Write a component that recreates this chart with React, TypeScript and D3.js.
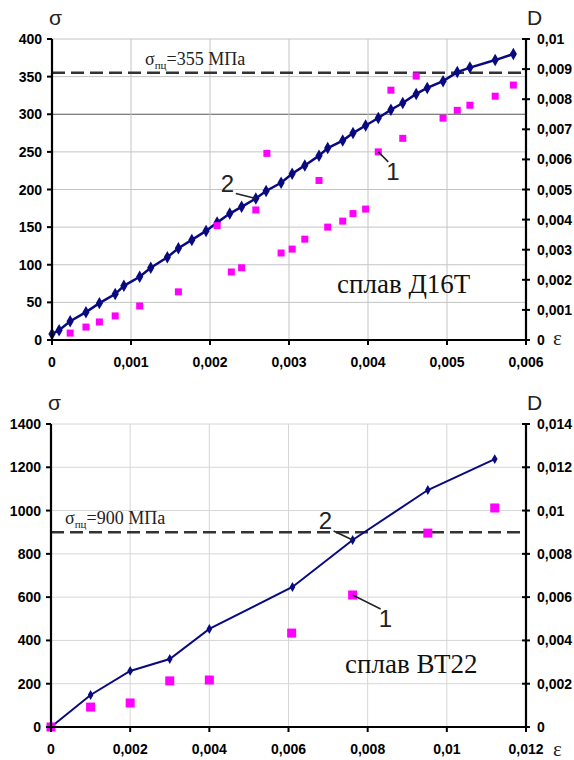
import React from "react";
import * as d3 from "d3";

// alloy D16T: loading curve (2) and damage points (1)
const topLineEps = [0, 0.00009, 0.00023, 0.00043, 0.0006, 0.0008, 0.00091, 0.00111, 0.00125, 0.00146, 0.0016, 0.00177, 0.00195, 0.00209, 0.00225, 0.0024, 0.00258, 0.00271, 0.0029, 0.00304, 0.0032, 0.00338, 0.00349, 0.00368, 0.00381, 0.00397, 0.00413, 0.00429, 0.00444, 0.00461, 0.00475, 0.00495, 0.00513, 0.00529, 0.00561, 0.00584];
const topLineSigma = [8, 13, 25, 37, 49, 61, 72, 84, 96, 110, 122, 133, 145, 156, 168, 177, 188, 198, 209, 221, 232, 245, 255, 265, 275, 285, 295, 306, 315, 327, 335, 344, 356, 362, 372, 380];
const topDotsEps = [0.00023, 0.00043, 0.0006, 0.0008, 0.00111, 0.0016, 0.00209, 0.00227, 0.0024, 0.00258, 0.00272, 0.0029, 0.00304, 0.0032, 0.00338, 0.00349, 0.00368, 0.00381, 0.00397, 0.00413, 0.00429, 0.00444, 0.00461, 0.00495, 0.00513, 0.00529, 0.00561, 0.00584];
const topDotsD = [0.00023, 0.00043, 0.0006, 0.0008, 0.00113, 0.0016, 0.0038, 0.00226, 0.0024, 0.00432, 0.0062, 0.00289, 0.00302, 0.00335, 0.0053, 0.00375, 0.00395, 0.0042, 0.00435, 0.00625, 0.0083, 0.0067, 0.00877, 0.00737, 0.00763, 0.0078, 0.0081, 0.00847];
const topXTicks = ["0", "0,001", "0,002", "0,003", "0,004", "0,005", "0,006"];
const topYTicks = ["0", "50", "100", "150", "200", "250", "300", "350", "400"];
const topDTicks = ["0", "0,001", "0,002", "0,003", "0,004", "0,005", "0,006", "0,007", "0,008", "0,009", "0,01"];

// alloy VT22
const botLineEps = [0, 0.001, 0.002, 0.003, 0.004, 0.0061, 0.00762, 0.00952, 0.01121];
const botLineSigma = [0, 148, 259, 314, 453, 647, 864, 1095, 1238];
const botDotsEps = [0, 0.001, 0.002, 0.003, 0.004, 0.00608, 0.00762, 0.00952, 0.01121];
const botDotsD = [0, 0.00092, 0.00111, 0.00213, 0.00217, 0.00434, 0.0061, 0.00896, 0.01012];
const botXTicks = ["0", "0,002", "0,004", "0,006", "0,008", "0,01", "0,012"];
const botYTicks = ["0", "200", "400", "600", "800", "1000", "1200", "1400"];
const botDTicks = ["0", "0,002", "0,004", "0,006", "0,008", "0,01", "0,012", "0,014"];

const NAVY = "#0a0a80";
const PINK = "#ff00ff";
const SERIF = "Times New Roman, Liberation Serif, serif";
const SANS = "Arial, Liberation Sans, sans-serif";
const BOLD = { fontFamily: SANS, fontWeight: 700, fontSize: 14 } as const;

type PanelProps = {
  left: number; right: number; top: number; bottom: number;
  xMax: number; yMax: number; dMax: number;
  xTicks: string[]; yTicks: string[]; dTicks: string[];
  lineEps: number[]; lineSigma: number[]; dotsEps: number[]; dotsD: number[];
  limit: number; limitText: string; limitX: number;
  title: string; titleX: number; titleY: number;
  label2: number; label1: number; off2: [number, number]; off1: [number, number];
  dot: number; diamond: number; lineW: number; darkGrid?: number; gridColor: string;
};

function Panel(p: PanelProps) {
  const x = d3.scaleLinear().domain([0, p.xMax]).range([p.left, p.right]);
  const y = d3.scaleLinear().domain([0, p.yMax]).range([p.bottom, p.top]);
  const yd = d3.scaleLinear().domain([0, p.dMax]).range([p.bottom, p.top]);
  const xs = d3.range(p.xTicks.length).map(i => (p.xMax * i) / (p.xTicks.length - 1));
  const ys = d3.range(p.yTicks.length).map(i => (p.yMax * i) / (p.yTicks.length - 1));
  const ds = d3.range(p.dTicks.length).map(i => (p.dMax * i) / (p.dTicks.length - 1));
  const line = d3.line<number>().x((_, i) => x(p.lineEps[i])).y(v => y(v));
  const diamond = d3.symbol().type(d3.symbolDiamond).size(p.diamond)();

  const px2 = x(p.lineEps[p.label2]);
  const py2 = y(p.lineSigma[p.label2]);
  const px1 = x(p.dotsEps[p.label1]);
  const py1 = yd(p.dotsD[p.label1]);

  return (
    <g>
      {ys.map((v, i) => (
        <line key={"gy" + i} x1={p.left} x2={p.right} y1={y(v)} y2={y(v)}
          stroke={v === p.darkGrid ? "#555" : p.gridColor} strokeWidth={1} />
      ))}
      {xs.slice(1).map((v, i) => (
        <line key={"gx" + i} x1={x(v)} x2={x(v)} y1={p.top} y2={p.bottom} stroke={p.gridColor} strokeWidth={1} />
      ))}
      <line x1={p.left} x2={p.right} y1={y(p.limit)} y2={y(p.limit)} stroke="#333" strokeWidth={2.5} strokeDasharray="13,6" />
      <text x={p.limitX} y={y(p.limit) - 8} fontFamily={SERIF} fontSize={18} fill="#222">
        σ<tspan fontSize={11} dy={4}>пц</tspan><tspan dy={-4}>={p.limitText}</tspan>
      </text>

      <path d={line(p.lineSigma) || ""} fill="none" stroke={NAVY} strokeWidth={p.lineW} />
      {p.lineEps.map((e, i) => (
        <path key={"m" + i} d={diamond || ""} transform={`translate(${x(e)},${y(p.lineSigma[i])})`} fill={NAVY} />
      ))}
      {p.dotsEps.map((e, i) => (
        <rect key={"s" + i} x={x(e) - p.dot / 2} y={yd(p.dotsD[i]) - p.dot / 2} width={p.dot} height={p.dot} fill={PINK} />
      ))}

      <line x1={p.left} x2={p.left} y1={p.top} y2={p.bottom} stroke="#000" strokeWidth={2.2} />
      <line x1={p.right} x2={p.right} y1={p.top} y2={p.bottom} stroke="#000" strokeWidth={2.2} />
      <line x1={p.left} x2={p.right} y1={p.bottom} y2={p.bottom} stroke="#000" strokeWidth={2.2} />
      {ys.map((v, i) => (
        <g key={"ty" + i}>
          <line x1={p.left - 5} x2={p.left} y1={y(v)} y2={y(v)} stroke="#000" strokeWidth={2} />
          <text x={p.left - 10} y={y(v) + 5} textAnchor="end" {...BOLD}>{p.yTicks[i]}</text>
        </g>
      ))}
      {ds.map((v, i) => (
        <g key={"td" + i}>
          <line x1={p.right - 4} x2={p.right + 4} y1={yd(v)} y2={yd(v)} stroke="#000" strokeWidth={2} />
          <text x={p.right + 11} y={yd(v) + 5} {...BOLD}>{p.dTicks[i]}</text>
        </g>
      ))}
      {xs.map((v, i) => (
        <g key={"tx" + i}>
          <line x1={x(v)} x2={x(v)} y1={p.bottom} y2={p.bottom + 5} stroke="#000" strokeWidth={2} />
          <text x={x(v)} y={p.bottom + 27} textAnchor="middle" {...BOLD}>{p.xTicks[i]}</text>
        </g>
      ))}

      <text x={p.left - 3} y={p.top - 14} fontFamily={SANS} fontSize={21} fill="#222">σ</text>
      <text x={p.right + 1} y={p.top - 14} fontFamily={SANS} fontSize={21} fill="#222">D</text>

      <line x1={px2 + p.off2[0] + 6} y1={py2 + p.off2[1] + 2} x2={px2} y2={py2} stroke="#222" strokeWidth={1.5} />
      <text x={px2 + p.off2[0] - 9} y={py2 + p.off2[1]} fontFamily={SANS} fontSize={24} fill="#222">2</text>
      <line x1={px1} y1={py1} x2={px1 + p.off1[0]} y2={py1 + p.off1[1]} stroke="#222" strokeWidth={1.5} />
      <text x={px1 + p.off1[0] - 2} y={py1 + p.off1[1] + 18} fontFamily={SANS} fontSize={24} fill="#222">1</text>

      <text x={p.titleX} y={p.titleY} fontFamily={SERIF} fontSize={27} fill="#111">{p.title}</text>
    </g>
  );
}

export default function App() {
  return (
    <svg width={574} height={760} style={{ position: "absolute", left: 0, top: 0, background: "#fff" }}>
      <Panel left={52} right={526} top={39} bottom={340} xMax={0.006} yMax={400} dMax={0.01}
        xTicks={topXTicks} yTicks={topYTicks} dTicks={topDTicks}
        lineEps={topLineEps} lineSigma={topLineSigma} dotsEps={topDotsEps} dotsD={topDotsD}
        limit={355} limitText="355 МПа" limitX={145}
        title="сплав Д16Т" titleX={337} titleY={293}
        label2={16} label1={19} off2={[-26, -7]} off1={[10, 10]}
        dot={7} diamond={45} lineW={2.5} darkGrid={300} gridColor="#c4c4c4" />
      <text x={553} y={345} fontFamily={SERIF} fontSize={21} fill="#222">ε</text>

      <Panel left={51} right={526} top={424} bottom={727} xMax={0.012} yMax={1400} dMax={0.014}
        xTicks={botXTicks} yTicks={botYTicks} dTicks={botDTicks}
        lineEps={botLineEps} lineSigma={botLineSigma} dotsEps={botDotsEps} dotsD={botDotsD}
        limit={900} limitText="900 МПа" limitX={65}
        title="сплав ВТ22" titleX={345} titleY={673}
        label2={6} label1={6} off2={[-25, -11]} off1={[28, 14]}
        dot={9} diamond={28} lineW={2} gridColor="#d6d6d6" />
      <text x={553} y={756} fontFamily={SERIF} fontSize={21} fill="#222">ε</text>
    </svg>
  );
}
